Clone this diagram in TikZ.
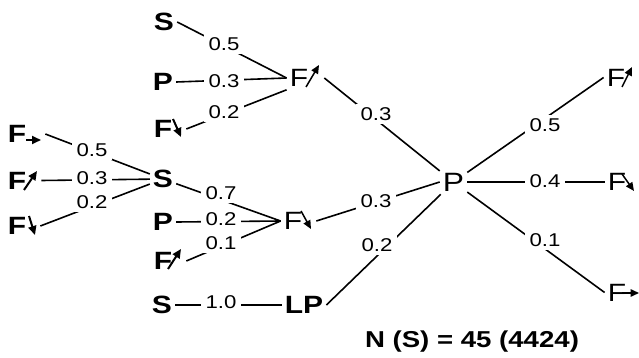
\documentclass[tikz,border=0pt]{standalone}
\usepackage{fontspec}
\newfontfamily\lf{Liberation Sans}[FakeStretch=1.2]
\usetikzlibrary{arrows.meta}
\begin{document}
\begin{tikzpicture}[x=1pt,y=-1pt,
  conn/.style={line width=1.6pt},
  bl/.style={font=\lf\bfseries\fontsize{25}{30}\selectfont, inner sep=3pt},
  rg/.style={font=\lf\fontsize{25}{30}\selectfont, inner sep=3pt},
  num/.style={font=\lf\fontsize{18.5}{20}\selectfont, fill=white, inner xsep=5pt, inner ysep=3pt},
  barr/.style={line width=2pt, -{Triangle[length=9pt,width=8pt]}},
  rarr/.style={line width=1.5pt, -{Triangle[length=8.5pt,width=7.5pt]}},
]
\useasboundingbox (0,0) rectangle (639,358);

% letter nodes
\node[bl] (S1) at (164,22) {S};
\node[bl] (P1) at (163,82) {P};
\node[bl, anchor=west] (FB1) at (150.6,129) {F\kern11pt};
\node[bl] (SL) at (163,179) {S};
\node[bl] (P2) at (163,222) {P};
\node[bl, anchor=west] (FB2) at (150.6,261) {F\kern11pt};
\node[bl] (S3) at (162,305) {S};
\node[bl] (LP) at (304,305) {LP};
\node[bl, anchor=west] (FL1) at (4.6,134) {F\kern16pt};
\node[bl, anchor=west] (FL2) at (4.6,180.5) {F\kern12pt};
\node[bl, anchor=west] (FL3) at (4.6,226) {F\kern11pt};
\node[rg, anchor=west] (FM1) at (286.6,78) {F\kern13pt};
\node[rg, anchor=west] (FM2) at (280.6,221) {F\kern11pt};
\node[font=\lf\fontsize{26.5}{30}\selectfont, inner sep=3pt] (P) at (453.5,182) {P};
\node[rg, anchor=west] (FR1) at (603.6,77.5) {F\kern9pt};
\node[rg, anchor=west] (FR2) at (604.6,182) {F\kern10pt};
\node[rg, anchor=west] (FR3) at (604.6,292.5) {F\kern14pt};

% small arrows next to F
\draw[barr] ([shift={(21.4,6)}]FL1.west) -- ([shift={(36.4,6)}]FL1.west);
\draw[barr] ([shift={(19.4,9.5)}]FL2.west) -- ([shift={(32.4,-9.5)}]FL2.west);
\draw[barr] ([shift={(24.4,-10)}]FL3.west) -- ([shift={(30.4,9)}]FL3.west);
\draw[barr] ([shift={(22.4,-10)}]FB1.west) -- ([shift={(30.4,8)}]FB1.west);
\draw[barr] ([shift={(17.4,8)}]FB2.west) -- ([shift={(30.4,-12)}]FB2.west);
\draw[rarr] ([shift={(19.4,9)}]FM1.west) -- ([shift={(32.4,-13)}]FM1.west);
\draw[rarr] ([shift={(20.4,-10)}]FM2.west) -- ([shift={(30.4,8)}]FM2.west);
\draw[rarr] ([shift={(18.4,9.5)}]FR1.west) -- ([shift={(28.4,-10.5)}]FR1.west);
\draw[rarr] ([shift={(17.4,-8)}]FR2.west) -- ([shift={(29.4,9)}]FR2.west);
\draw[rarr] ([shift={(17.4,0.5)}]FR3.west) -- ([shift={(34.4,0.5)}]FR3.west);

% connectors
\draw[conn] (S1.east) -- (FM1.west);
\draw[conn] (P1.east) -- (FM1.west);
\draw[conn] (FB1.east) -- (FM1.south west);
\draw[conn] (FL1.east) -- (SL);
\draw[conn] (FL2.east) -- (SL);
\draw[conn] (FL3.east) -- (SL);
\draw[conn] (SL) -- (FM2.west);
\draw[conn] (P2.east) -- (FM2.west);
\draw[conn] (FB2.east) -- (FM2.west);
\draw[conn] (S3.east) -- (LP.west);
\draw[conn] (FM1.east) -- (P);
\draw[conn] (FM2.east) -- (P.west);
\draw[conn] (LP.east) -- (P);
\draw[conn] (P) -- (FR1.west);
\draw[conn] (P) -- (FR2.west);
\draw[conn] (P) -- (FR3.west);

% weight labels
\node[num] (a1) at (224,44) {0.5};
\node[num] (a2) at (224,81) {0.3};
\node[num] (a3) at (224,112) {0.2};
\node[num] (b1) at (92,150) {0.5};
\node[num] (b2) at (92,178) {0.3};
\node[num] (b3) at (92,202) {0.2};
\node[num] (c1) at (221,193) {0.7};
\node[num] (c2) at (221,219) {0.2};
\node[num] (c3) at (221,243) {0.1};
\node[num] (d1) at (221,302) {1.0};
\node[num] (e1) at (376,114) {0.3};
\node[num] (e2) at (376,201) {0.3};
\node[num] (e3) at (377,245) {0.2};
\node[num] (r1) at (545,125) {0.5};
\node[num] (r2) at (545,181) {0.4};
\node[num] (r3) at (545,240) {0.1};

\node[font=\lf\bfseries\fontsize{23}{28}\selectfont] (N) at (472,342) {N (S) = 45 (4424)};
\end{tikzpicture}
\end{document}
